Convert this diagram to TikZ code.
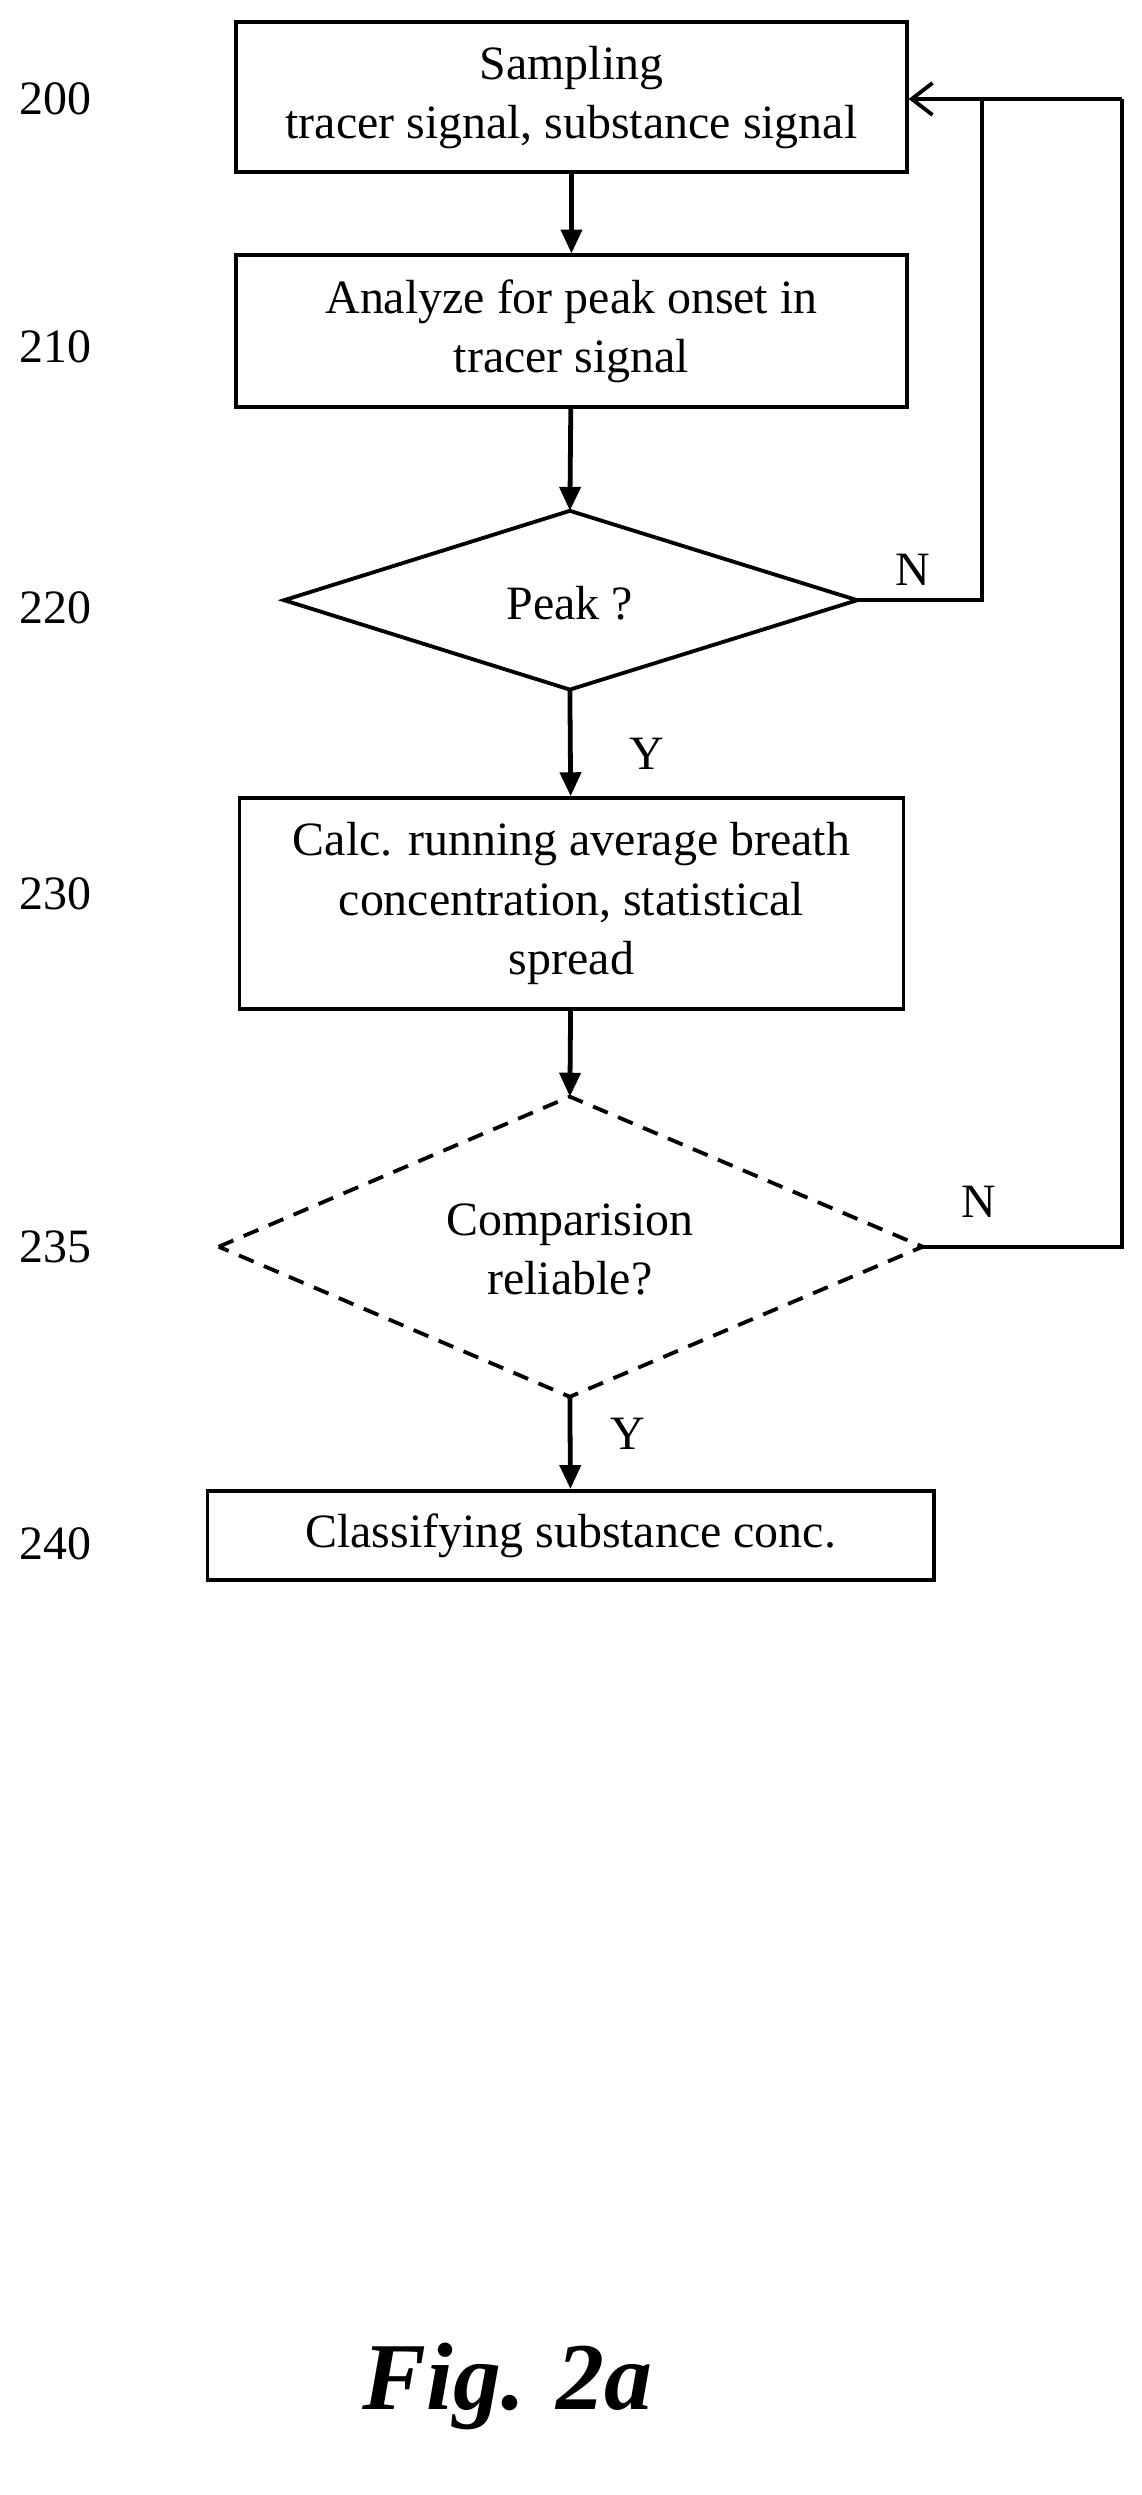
\documentclass[tikz,border=0pt]{standalone}
\usepackage{fontspec}
\setmainfont{Liberation Serif}
\usetikzlibrary{shapes.geometric,arrows.meta}
\begin{document}
\begin{tikzpicture}[x=1pt,y=-1pt,
  box/.style={draw,line width=2.4pt,align=center,font=\fontsize{30}{37}\selectfont,inner sep=0},
  lab/.style={font=\fontsize{30}{34}\selectfont},
  arr/.style={line width=3pt,-{Triangle[length=15pt,width=13pt]}},
  ln/.style={line width=2.4pt}]
\useasboundingbox (0,0) rectangle (715,1563);
\node[box,minimum width=420,minimum height=94] (b200) at (358,61) {Sampling\\tracer signal, substance signal};
\node[box,minimum width=420,minimum height=95] (b210) at (358,207.5) {Analyze for peak onset in\\tracer signal};
\draw[ln] (178,376) coordinate (d1l) -- (357,320) coordinate (d1t) -- (537,376) coordinate (d1r) -- (357,432) coordinate (d1b) -- cycle;
\node[lab] (t220) at (357,378) {Peak ?};
\node[box,minimum width=416,minimum height=132] (b230) at (358,566) {Calc. running average breath\\concentration, statistical\\spread};
\draw[ln,dashed,dash pattern=on 10pt off 7pt] (137,781) coordinate (d2l) -- (357,687) coordinate (d2t) -- (578,781) coordinate (d2r) -- (357,875) coordinate (d2b) -- cycle;
\node[lab,align=center,font=\fontsize{30}{37}\selectfont] (t235) at (357,783) {Comparision\\reliable?};
\node[box,minimum width=455,minimum height=56] (b240) at (357.5,962) {Classifying substance conc.};
\foreach \n/\y in {200/62,210/217,220/381,230/560,235/781,240/967}
  \node[lab] (n\n) at (35,\y) {\n};
\draw[arr] (b200) -- (b210);
\draw[arr] (b210) -- (d1t);
\draw[arr] (d1b) -- (b230);
\draw[arr] (b230) -- (d2t);
\draw[arr] (d2b) -- (b240);
\coordinate (c1) at (615,376); \coordinate (c2) at (615,62);
\coordinate (c3) at (703,781); \coordinate (c4) at (703,62);
\draw[ln] (d1r) -- (c1) -- (c2);
\draw[ln,-{Straight Barb[length=13pt,width=20pt]}] (c4) -- (b200.east|-c4);
\draw[ln] (d2r) -- (c3) -- (c4);
\node[lab] (nN1) at (572,357) {N};
\node[lab] (nN2) at (613,753) {N};
\node[lab] (nY1) at (405,472) {Y};
\node[lab] (nY2) at (393,898) {Y};
\node[font=\fontsize{60}{70}\selectfont\bfseries\itshape] (fig) at (318,1495) {Fig. 2a};
\end{tikzpicture}
\end{document}
